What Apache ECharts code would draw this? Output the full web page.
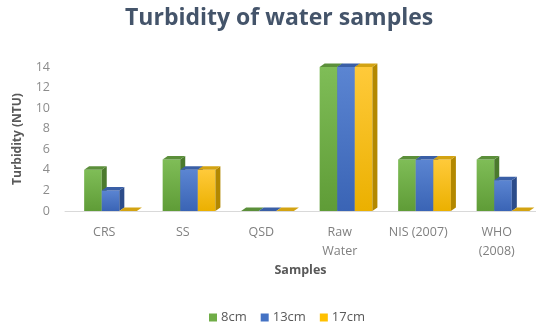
<!DOCTYPE html>
<html>
<head>
<meta charset="utf-8">
<script src="https://cdn.jsdelivr.net/npm/echarts@6/dist/echarts.min.js"></script>
<style>
  html, body { margin: 0; padding: 0; background: #fff; }
  #chart { width: 536px; height: 325px; }
</style>
</head>
<body>
<div id="chart"></div>
<script>
// Sample sites and turbidity readings (NTU) at three filter depths
const categories = ['CRS', 'SS', 'QSD', 'Raw\nWater', 'NIS (2007)', 'WHO\n(2008)'];
const depth8cm  = [4, 5, 0, 14, 5, 5];
const depth13cm = [2, 4, 0, 14, 5, 3];
const depth17cm = [0, 4, 0, 14, 5, 0];
const yTicks = { min: 0, max: 14, interval: 2 };

// Face colours for the pseudo-3D columns: front gradient, top, side
const palettes = [
  { base: '#70AD47', light: '#7fbd57', dark: '#5f9c37', top: '#5b8f3a', side: '#4b7a2d' },
  { base: '#4472C4', light: '#5b85d2', dark: '#3a64b5', top: '#3a5fa6', side: '#2c4c8a' },
  { base: '#FFC000', light: '#ffca3a', dark: '#ebb000', top: '#d3a312', side: '#b38800' }
];

const FONT = '"Open Sans", Lato, sans-serif';

function makeRender(seriesIdx) {
  const pal = palettes[seriesIdx];
  return function (params, api) {
    const cat = api.value(0);
    const val = api.value(1);
    const topPt = api.coord([cat, val]);
    const basePt = api.coord([cat, 0]);
    const band = api.size([1, 0])[0];
    const w = band * 0.224;
    const dx = 5, dy = 3.5;
    const shift = band * 0.08;
    const x0 = topPt[0] + shift + (seriesIdx - 1.5) * w;
    const yT = topPt[1];
    const yB = basePt[1];
    const h = yB - yT;
    const children = [];
    if (h > 0.5) {
      children.push({
        type: 'rect',
        shape: { x: x0, y: yT, width: w, height: h },
        style: {
          fill: new echarts.graphic.LinearGradient(0, 0, 0, 1, [
            { offset: 0, color: pal.light },
            { offset: 1, color: pal.dark }
          ])
        }
      });
      children.push({
        type: 'polygon',
        shape: { points: [[x0 + w, yT], [x0 + w + dx, yT - dy], [x0 + w + dx, yB - dy], [x0 + w, yB]] },
        style: { fill: pal.side }
      });
    }
    children.push({
      type: 'polygon',
      shape: { points: [[x0, yT], [x0 + dx, yT - dy], [x0 + w + dx, yT - dy], [x0 + w, yT]] },
      style: { fill: pal.top }
    });
    return { type: 'group', children: children };
  };
}

function toData(values) {
  return values.map((v, i) => [i, v]);
}

const seriesNames = ['8cm', '13cm', '17cm'];
const seriesValues = [depth8cm, depth13cm, depth17cm];

const chart = echarts.init(document.getElementById('chart'), null, { renderer: 'canvas' });
chart.setOption({
  animation: false,
  backgroundColor: '#ffffff',
  title: {
    text: 'Turbidity of water samples',
    left: 120,
    top: 2,
    textStyle: { fontFamily: FONT, fontSize: 23, fontWeight: 'bold', color: '#44546A' }
  },
  legend: {
    data: seriesNames,
    left: 204,
    top: 306,
    itemWidth: 8,
    itemHeight: 8,
    itemGap: 14,
    icon: 'rect',
    textStyle: { fontFamily: FONT, fontSize: 13, color: '#595959', padding: [0, 0, 0, -1] }
  },
  grid: { left: 65, right: 0, top: 67, bottom: 114, containLabel: false },
  xAxis: {
    type: 'category',
    data: categories,
    name: 'Samples',
    nameLocation: 'middle',
    nameGap: 53,
    nameTextStyle: { fontFamily: FONT, fontSize: 12.5, fontWeight: 'bold', color: '#595959' },
    axisLine: { lineStyle: { color: '#d9d9d9', width: 1 } },
    axisTick: { show: false },
    axisLabel: { fontFamily: FONT, fontSize: 12.5, color: '#808080', margin: 12, lineHeight: 19, interval: 0 }
  },
  yAxis: {
    type: 'value',
    min: yTicks.min,
    max: yTicks.max,
    interval: yTicks.interval,
    name: 'Turbidity (NTU)',
    nameLocation: 'middle',
    nameRotate: 90,
    nameGap: 41,
    nameTextStyle: { fontFamily: FONT, fontSize: 12, fontWeight: 'bold', color: '#595959' },
    axisLine: { show: false },
    axisTick: { show: false },
    splitLine: { show: false },
    axisLabel: { fontFamily: FONT, fontSize: 12.5, color: '#8c8c8c', margin: 15 }
  },
  series: seriesNames.map((name, i) => ({
    name: name,
    type: 'custom',
    renderItem: makeRender(i),
    itemStyle: { color: palettes[i].base },
    encode: { x: 0, y: 1 },
    data: toData(seriesValues[i])
  }))
});
</script>
</body>
</html>
